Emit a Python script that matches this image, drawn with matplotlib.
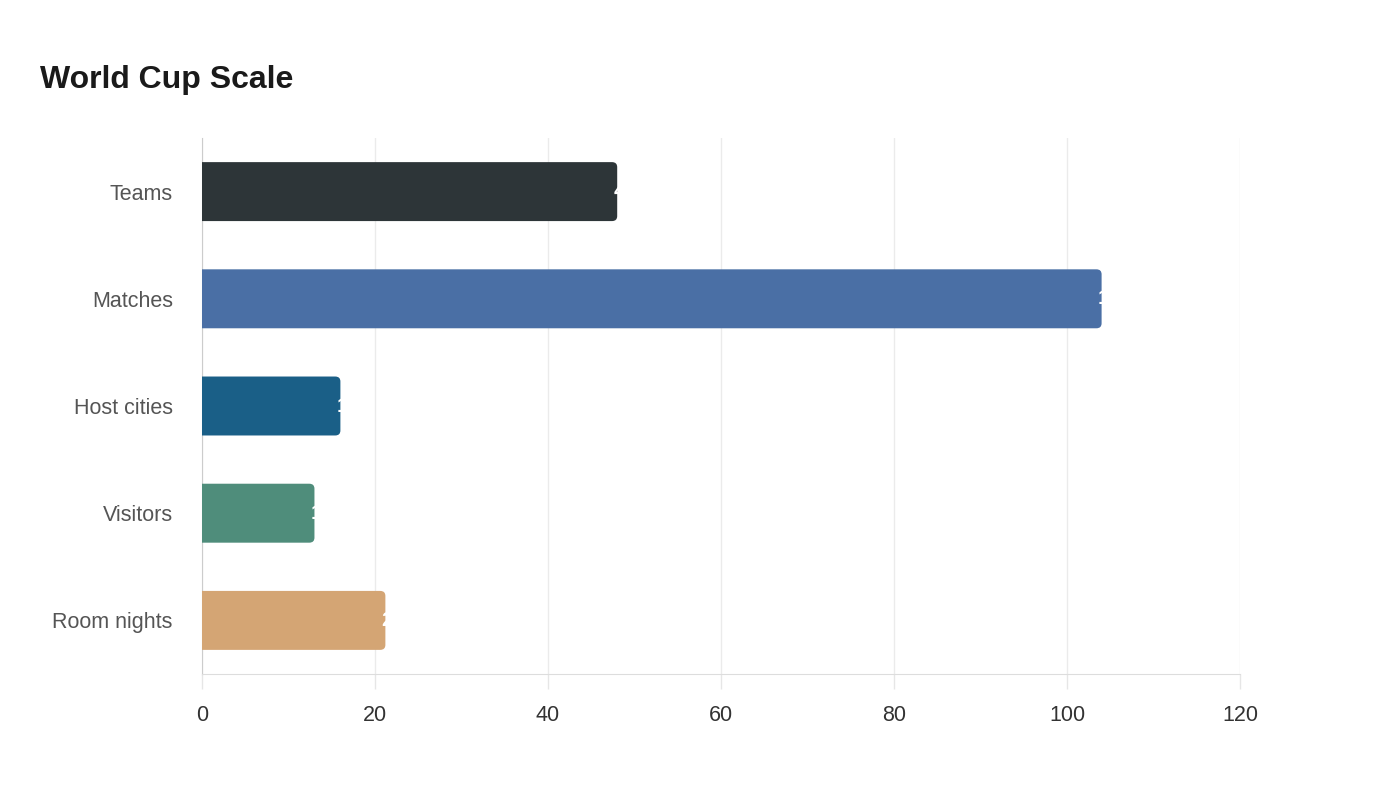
#!/usr/bin/env python3
"""World Cup Scale"""
import matplotlib
matplotlib.use('Agg')
import matplotlib.pyplot as plt
from matplotlib.patches import FancyBboxPatch

categories = ['Teams', 'Matches', 'Host cities', 'Visitors', 'Room nights']
values = [48, 104, 16, 13, 21.2]
colors = ['#2d3538', '#4a6fa5', '#1a5f87', '#4f8d7b', '#d4a574']
x_ticks = [0, 20, 40, 60, 80, 100, 120]

plt.rcParams['font.family'] = ['Liberation Sans', 'DejaVu Sans']

fig = plt.figure(figsize=(14, 8), dpi=100)
ax = fig.add_axes([202 / 1400, 1 - 674 / 800, 1038 / 1400, 536 / 800])

bar_h = 0.55
ys = list(range(len(categories)))
# px per unit: x 8.65, y 107.2
rad_x = 0.6
aspect = (5 / 107.2) / rad_x
for y, v, c in zip(ys, values, colors):
    patch = FancyBboxPatch((-2, y - bar_h / 2), v + 2, bar_h,
                           boxstyle='round,pad=0,rounding_size=%f' % rad_x,
                           mutation_aspect=aspect, facecolor=c,
                           edgecolor='none', zorder=3)
    ax.add_patch(patch)
    lab = ax.text(v - 0.45, y, '%g' % round(v), color='white',
                  fontsize=15, fontweight='bold', ha='left', va='center',
                  zorder=4)
    lab.set_clip_path(patch)

ax.set_xlim(0, 120)
ax.set_ylim(len(categories) - 0.5, -0.5)
ax.set_xticks(x_ticks)
ax.set_yticks(ys)
ax.set_yticklabels(categories)
ax.tick_params(axis='y', length=0, pad=21, labelsize=15.5, labelcolor='#555555')
ax.tick_params(axis='x', length=11, width=1, color='#e6e6e6', pad=11,
               labelsize=15.5, labelcolor='#333333')
ax.grid(axis='x', color='#ebebeb', linewidth=1, zorder=0)
ax.set_axisbelow(True)
for s in ['top', 'right']:
    ax.spines[s].set_visible(False)
ax.spines['left'].set_color('#cccccc')
ax.spines['bottom'].set_color('#dddddd')

fig.text(40 / 1400, 1 - 80 / 800, 'World Cup Scale', fontsize=23,
         fontweight='bold', color='#1a1a1a', ha='left', va='center')

fig.savefig('out.png', dpi=100, facecolor='white')
